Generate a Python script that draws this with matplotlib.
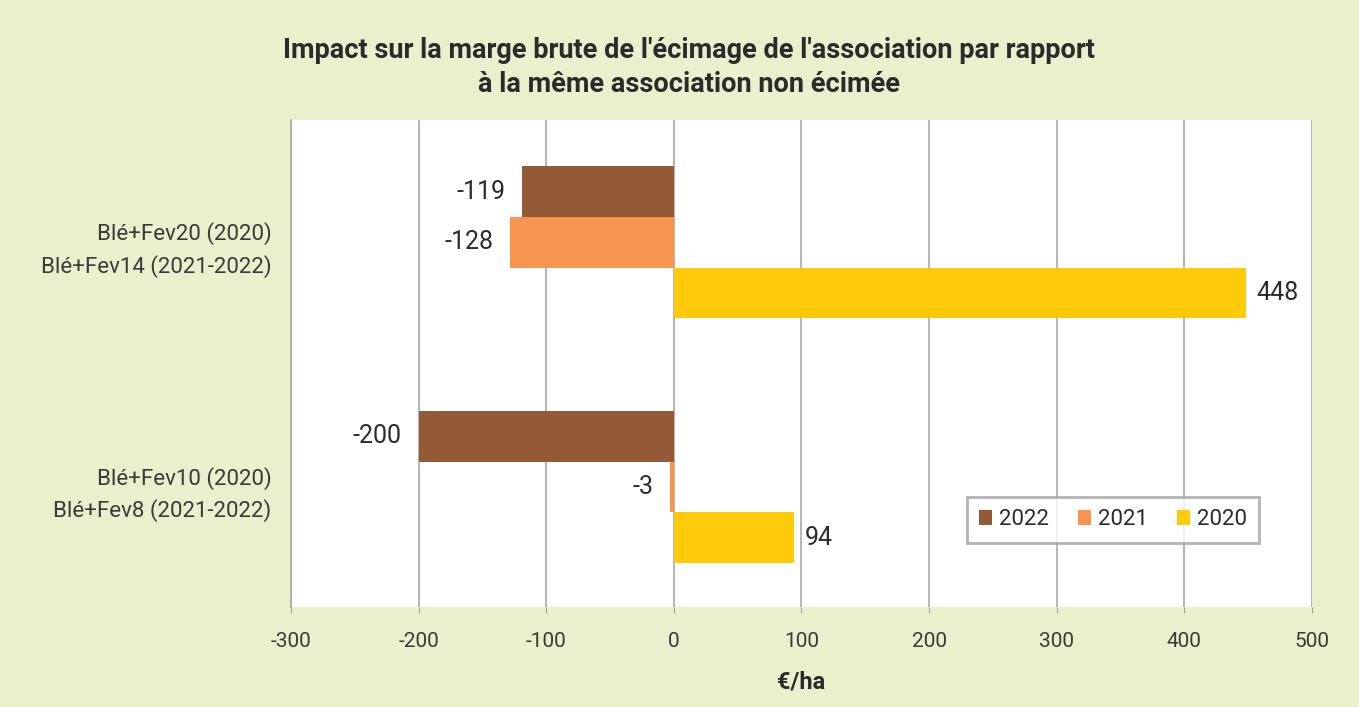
import numpy as np
from matplotlib import pyplot as plt

# data
categories = ["Blé+Fev20 (2020)\nBlé+Fev14 (2021-2022)",
              "Blé+Fev10 (2020)\nBlé+Fev8 (2021-2022)"]
years = ["2022", "2021", "2020"]
vals_2022 = [-119, -200]
vals_2021 = [-128, -3]
vals_2020 = [448, 94]

colors = ["#935A35", "#F79550", "#FFCB08"]
bg = "#E8F0CC"
text_col = "#2B2B2B"

plt.rcParams["font.family"] = ["Roboto", "DejaVu Sans"]
plt.rcParams["axes.unicode_minus"] = False

fig = plt.figure(figsize=(13.59, 7.07), dpi=100, facecolor=bg)
ax = fig.add_axes([0.2141, 0.1414, 0.7513, 0.6889])
ax.set_facecolor("white")

y = np.arange(len(categories))
h = 0.207
series = [vals_2022, vals_2021, vals_2020]
for i, (vals, yr, c) in enumerate(zip(series, years, colors)):
    pos = y + (i - 1) * h
    ax.barh(pos, vals, height=h, color=c, label=yr, zorder=3)
    for p, v in zip(pos, vals):
        if v < 0:
            ax.annotate(str(v), (v, p), xytext=(-12, 0), textcoords="offset points",
                        ha="right", va="center", fontsize=18, color=text_col)
        else:
            ax.annotate(str(v), (v, p), xytext=(8, 0), textcoords="offset points",
                        ha="left", va="center", fontsize=18, color=text_col)

ax.set_xlim(-300, 500)
ax.set_xticks(range(-300, 501, 100))
ax.set_ylim(1.49, -0.5)
ax.set_yticks(y)
ax.set_yticklabels(categories, fontsize=16, color="#3A3A3A", linespacing=1.55)
ax.tick_params(axis="y", length=0, pad=14)
ax.tick_params(axis="x", length=4, color="#A0A0A0", labelsize=15,
               labelcolor="#3A3A3A", pad=14)

ax.grid(axis="x", color="#A8A8A8", linewidth=1.2, zorder=0)
for s in ["top", "bottom", "right"]:
    ax.spines[s].set_visible(False)
ax.spines["left"].set_color("#A8A8A8")
ax.spines["left"].set_linewidth(1.2)

ax.set_xlabel("€/ha", fontsize=17, fontweight="bold", color=text_col, labelpad=14)

fig.suptitle("Impact sur la marge brute de l'écimage de l'association par rapport\n"
             "à la même association non écimée",
             x=0.507, y=0.947, fontsize=19.5, fontweight="bold", color=text_col,
             linespacing=1.3)

leg = ax.legend(loc="center", bbox_to_anchor=(0.805, 0.179), ncol=3,
                fontsize=16, frameon=True, fancybox=False, handlelength=0.6,
                handleheight=0.6, columnspacing=1.3, handletextpad=0.3,
                borderpad=0.55)
leg.get_frame().set_edgecolor("#A0A0A0")
leg.get_frame().set_linewidth(2)
for t in leg.get_texts():
    t.set_color(text_col)

plt.savefig("out.png", dpi=100, facecolor=bg)
